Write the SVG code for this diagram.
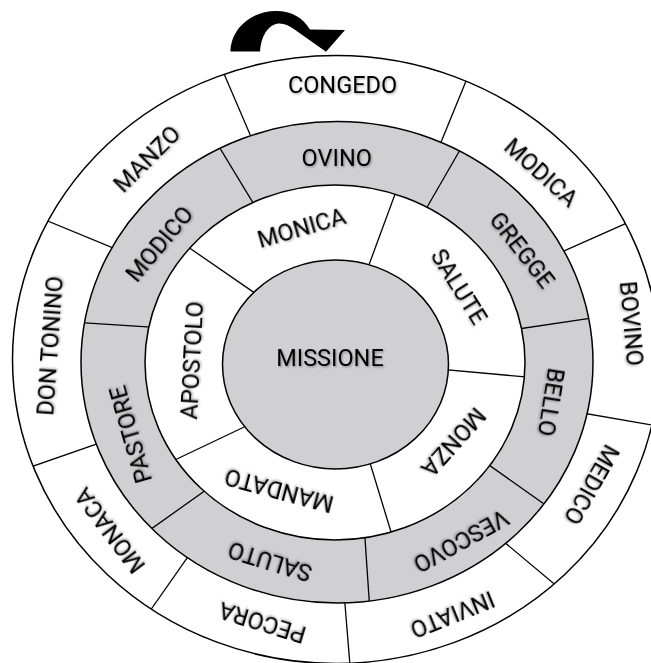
<svg xmlns="http://www.w3.org/2000/svg" width="651" height="663" viewBox="0 0 651 663">
<defs>
<style>
.ring{stroke:#000;stroke-width:1.5}
.w{fill:#fff}
.g{fill:#d0cfd1}
.div line{stroke:#000;stroke-width:1.3}
text{font-family:Roboto,"Liberation Sans",sans-serif;font-size:23.5px;fill:#000;text-anchor:middle;filter:url(#sh)}
</style>
<filter id="sh" x="-20%" y="-50%" width="140%" height="200%">
<feDropShadow dx="1" dy="1.2" stdDeviation="0.9" flood-color="#000" flood-opacity="0.35"/>
</filter>
<clipPath id="c4"><ellipse cx="336" cy="359.5" rx="323.5" ry="304"/></clipPath>
<clipPath id="c3"><ellipse cx="337" cy="362.3" rx="256" ry="240.7"/></clipPath>
<clipPath id="c2"><ellipse cx="335" cy="362.5" rx="190" ry="177.5"/></clipPath>
</defs>
<rect width="651" height="663" fill="#fff"/>
<g id="outer-ring">
<ellipse class="ring w" cx="336" cy="359.5" rx="323.5" ry="304"/>
</g>
<g id="connectors-outer" class="div" clip-path="url(#c4)">
<line x1="209.5" y1="40" x2="260.6" y2="159"/>
<line x1="482" y1="42" x2="428" y2="174"/>
<line x1="656" y1="210" x2="536" y2="263.4"/>
<line x1="559.5" y1="409" x2="680" y2="430"/>
<line x1="486.6" y1="527.3" x2="602.6" y2="624.5"/>
<line x1="343" y1="580" x2="352" y2="690"/>
<line x1="198" y1="542.3" x2="135.9" y2="631"/>
<line x1="120.7" y1="435.7" x2="2" y2="477"/>
<line x1="19" y1="209.2" x2="140.4" y2="259.2"/>
</g>
<g id="gray-ring">
<ellipse class="ring g" cx="337" cy="362.3" rx="256" ry="240.7"/>
</g>
<g id="connectors-gray" class="div" clip-path="url(#c3)">
<line x1="205.3" y1="124" x2="268" y2="227.5"/>
<line x1="474.7" y1="124.5" x2="412" y2="233.2"/>
<line x1="615.7" y1="314.5" x2="492.5" y2="332.8"/>
<line x1="465.6" y1="448.5" x2="567" y2="520.2"/>
<line x1="362.9" y1="507.6" x2="371.5" y2="634.4"/>
<line x1="130.5" y1="543.7" x2="227.7" y2="474.5"/>
<line x1="53" y1="320.7" x2="174.4" y2="328.7"/>
</g>
<g id="inner-ring">
<ellipse class="ring w" cx="335" cy="362.5" rx="190" ry="177.5"/>
</g>
<g id="connectors-inner" class="div" clip-path="url(#c2)">
<line x1="161.7" y1="228.8" x2="280.8" y2="311"/>
<line x1="409" y1="156.3" x2="357" y2="297.3"/>
<line x1="420" y1="367.4" x2="560" y2="380"/>
<line x1="361.8" y1="436" x2="400.8" y2="564"/>
<line x1="149.5" y1="472" x2="271.5" y2="414"/>
</g>
<g id="missione">
<ellipse class="ring g" cx="335.5" cy="364.5" rx="113" ry="104.5"/>
<text x="330" y="366.3">MISSIONE</text>
</g>
<g id="outer-labels">
<g id="congedo"><text transform="translate(342.5 84.5)" y="8.3">CONGEDO</text></g>
<g id="modica"><text transform="translate(541 172.5) rotate(42)" y="8.3">MODICA</text></g>
<g id="bovino"><text transform="translate(631.5 323.5) rotate(85)" y="8.3">BOVINO</text></g>
<g id="medico"><text transform="translate(591.7 484.5) rotate(119.5)" y="8.3">MEDICO</text></g>
<g id="inviato"><text transform="translate(452.5 614.5) rotate(158)" y="8.3">INVIATO</text></g>
<g id="pecora"><text transform="translate(262.5 622.5) rotate(197)" y="8.3">PECORA</text></g>
<g id="monaca"><text transform="translate(110 530.6) rotate(233)" y="8.3">MONACA</text></g>
<g id="don-tonino"><text transform="translate(50 346) rotate(274)" y="8.3">DON TONINO</text></g>
<g id="manzo"><text transform="translate(147 159) rotate(315)" y="8.3">MANZO</text></g>
</g>
<g id="gray-labels">
<g id="ovino"><text transform="translate(336.7 157.5)" y="8.3">OVINO</text></g>
<g id="gregge"><text transform="translate(522 250) rotate(52)" y="8.3">GREGGE</text></g>
<g id="bello"><text transform="translate(551 402) rotate(99)" y="8.3">BELLO</text></g>
<g id="vescovo"><text transform="translate(461 541) rotate(151)" y="8.3">VESCOVO</text></g>
<g id="saluto"><text transform="translate(270 561.5) rotate(197)" y="8.3">SALUTO</text></g>
<g id="pastore"><text transform="translate(130.8 434.5) rotate(254)" y="8.3">PASTORE</text></g>
<g id="modico"><text transform="translate(159.5 244) rotate(310)" y="8.3">MODICO</text></g>
</g>
<g id="inner-labels">
<g id="monica"><text transform="translate(301.5 228) rotate(344)" y="8.3">MONICA</text></g>
<g id="salute"><text transform="translate(459 286.7) rotate(58)" y="8.3">SALUTE</text></g>
<g id="monza"><text transform="translate(453.5 442) rotate(132)" y="8.3">MONZA</text></g>
<g id="mandato"><text transform="translate(279.2 490.5) rotate(195)" y="8.3">MANDATO</text></g>
<g id="apostolo"><text transform="translate(192 360.5) rotate(273)" y="8.3">APOSTOLO</text></g>
</g>
<g id="arrow">
<path fill="#000" d="M230.5 51.5 C231 28 252 11 276 11 C292 11 303 18 310 29.5 L345 30 L326 51.7 L294.5 29.5 C289 25 283 23 278 23.5 C268 25 261 36 260 51.5 Z"/>
</g>
</svg>
